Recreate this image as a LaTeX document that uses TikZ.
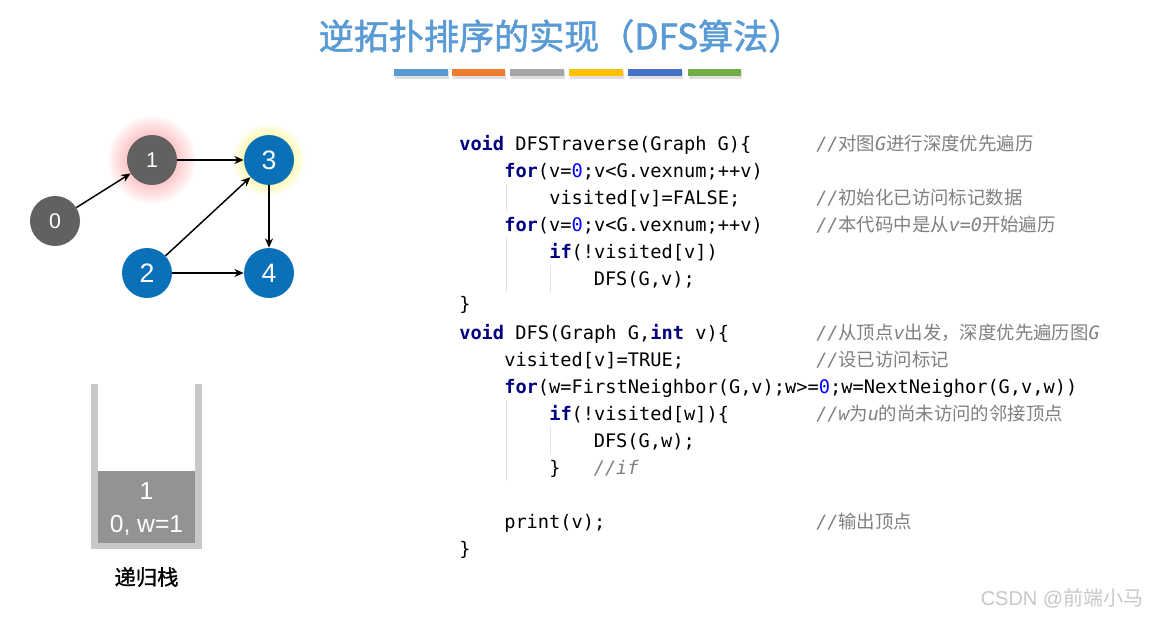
\documentclass[tikz,border=0pt]{standalone}
\usepackage{fontspec}
\setmainfont{Liberation Sans}
\setsansfont{Liberation Sans}
\setmonofont{DejaVu Sans Mono}
\newfontfamily\cjk{Noto Sans CJK SC}
\newfontfamily\cjkheavy[FakeBold=1.6]{Noto Sans CJK SC}
\newfontfamily\cjkmed[FakeBold=1.0]{Noto Sans CJK SC}
\usetikzlibrary{arrows.meta}
\definecolor{titleblue}{HTML}{5B9BD5}
\definecolor{barA}{HTML}{5B9BD5}
\definecolor{barB}{HTML}{ED7D31}
\definecolor{barC}{HTML}{A5A5A5}
\definecolor{barD}{HTML}{FFC000}
\definecolor{barE}{HTML}{4472C4}
\definecolor{barF}{HTML}{70AD47}
\definecolor{nodegray}{HTML}{616161}
\definecolor{nodeblue}{HTML}{0A71B9}
\definecolor{stackbar}{HTML}{C8C8C8}
\definecolor{stackfill}{HTML}{939393}
\definecolor{kwcol}{HTML}{000080}
\definecolor{numcol}{HTML}{0000FF}
\definecolor{cmtcol}{HTML}{808080}
\definecolor{guidecol}{HTML}{E2E2E2}
\newcommand\kw[1]{{\color{kwcol}\bfseries #1}}
\newcommand\nm[1]{{\color{numcol}#1}}
\newcommand\ci[1]{{\ttfamily\itshape #1}}
\newcommand\cc[1]{{\cjk #1}}
\tikzset{
  gnode/.style={circle, minimum size=37.5pt, inner sep=0pt, text=white, font=\sffamily},
  edge/.style={-{Stealth[length=7pt,width=6pt]}, line width=1.1pt, black},
  codeline/.style={anchor=base west, inner sep=0pt, font=\ttfamily\fontsize{14}{16}\selectfont},
  cmtline/.style={anchor=base west, inner sep=0pt, text=cmtcol, font=\fontsize{13.8}{16}\selectfont},
  guide/.style={guidecol, line width=0.75pt},
}
\begin{document}
\begin{tikzpicture}[x=0.75pt,y=-0.75pt]
\useasboundingbox (0,0) rectangle (1153,617);
\fill[white] (0,0) rectangle (1153,617);
% title
\node[text=titleblue, font=\fontsize{26.3}{30}\selectfont] (title) at (561,36) {\cjkheavy 逆拓扑排序的实现（DFS算法）};
% colour bars
\foreach \c/\x in {barA/394, barB/451.5, barC/510, barD/569, barE/628, barF/687.5}{
  \fill[black, opacity=0.12] (\x+1,71) rectangle (\x+54.5,79);
  \fill[\c] (\x,69) rectangle (\x+53.5,76);
}
% glows
\foreach \r in {26,28,...,44}{
  \fill[red!70!white, opacity=0.03] (152,160) circle[radius=\r*0.75pt];
}
\foreach \r in {26,28,...,36}{
  \fill[yellow, opacity=0.05] (269,160) circle[radius=\r*0.75pt];
}
% graph nodes
\node[gnode, fill=nodegray, font=\sffamily\fontsize{16}{18}\selectfont] (n0) at (55,221) {0};
\node[gnode, fill=nodegray, font=\sffamily\fontsize{16}{18}\selectfont] (n1) at (152,160) {1};
\node[gnode, fill=nodeblue, font=\sffamily\fontsize{20}{22}\selectfont] (n3) at (269,160) {3};
\node[gnode, fill=nodeblue, font=\sffamily\fontsize{20}{22}\selectfont] (n2) at (147,273) {2};
\node[gnode, fill=nodeblue, font=\sffamily\fontsize{20}{22}\selectfont] (n4) at (269,273) {4};
\draw[edge] (n0) -- (n1);
\draw[edge] (n1) -- (n3);
\draw[edge] (n2) -- (n3);
\draw[edge] (n3) -- (n4);
\draw[edge] (n2) -- (n4);
% stack
\fill[stackbar] (91,384) rectangle (98,549);
\fill[stackbar] (195,384) rectangle (202,549);
\fill[stackbar] (91,543) rectangle (202,549);
\fill[stackfill] (98,471) rectangle (195,543);
\node[text=white, font=\sffamily\fontsize{18.5}{20}\selectfont] (s1) at (146.5,491) {1};
\node[text=white, font=\sffamily\fontsize{18.5}{20}\selectfont] (s0) at (146.5,525) {0, w=1};
\node[font=\fontsize{16}{18}\selectfont] (slabel) at (146.5,577) {\cjkmed 递归栈};
% indent guides
\draw[guide] (506,184) -- (506,211);
\draw[guide] (506,238) -- (506,292);
\draw[guide] (550,265) -- (550,292);
\draw[guide] (506,400) -- (506,481);
\draw[guide] (550,427) -- (550,454);
% code
\node[codeline] (c1) at (459,150) {\kw{void} DFSTraverse(Graph G)\{};
\node[codeline] (c2) at (504,177) {\kw{for}(v=\nm{0};v<G.vexnum;++v)};
\node[codeline] (c3) at (549,204) {visited[v]=FALSE;};
\node[codeline] (c4) at (504,231) {\kw{for}(v=\nm{0};v<G.vexnum;++v)};
\node[codeline] (c5) at (549,258) {\kw{if}(!visited[v])};
\node[codeline] (c6) at (593.5,285) {DFS(G,v);};
\node[codeline] (c7) at (459,310) {\}};
\node[codeline] (c8) at (459,339) {\kw{void} DFS(Graph G,\kw{int} v)\{};
\node[codeline] (c9) at (504,366) {visited[v]=TRUE;};
\node[codeline] (c10) at (504,393) {\kw{for}(w=FirstNeighbor(G,v);w>=\nm{0};w=NextNeighor(G,v,w))};
\node[codeline] (c11) at (549,420) {\kw{if}(!visited[w])\{};
\node[codeline] (c12) at (593.5,447) {DFS(G,w);};
\node[codeline] (c13) at (549,474) {\}};
\node[codeline, text=cmtcol] (c13b) at (593.5,474) {\itshape //if};
\node[codeline] (c14) at (504,528) {print(v);};
\node[codeline] (c15) at (459,555) {\}};
% comments
\node[cmtline] (k1) at (816,150) {\ci{//}\cc{对图}\ci{G}\cc{进行深度优先遍历}};
\node[cmtline] (k3) at (816,204) {\ci{//}\cc{初始化已访问标记数据}};
\node[cmtline] (k4) at (816,231) {\ci{//}\cc{本代码中是从}\ci{v=0}\cc{开始遍历}};
\node[cmtline] (k8) at (816,339) {\ci{//}\cc{从顶点}\ci{v}\cc{出发，深度优先遍历图}\ci{G}};
\node[cmtline] (k9) at (816,366) {\ci{//}\cc{设已访问标记}};
\node[cmtline] (k11) at (816,420) {\ci{//w}\cc{为}\ci{u}\cc{的尚未访问的邻接顶点}};
\node[cmtline] (k14) at (816,528) {\ci{//}\cc{输出顶点}};
% watermark
\node[anchor=east, text=stackbar, font=\sffamily\fontsize{15}{17}\selectfont] (wm) at (1148,598) {CSDN @\cc{前端小马}};
\end{tikzpicture}
\end{document}
